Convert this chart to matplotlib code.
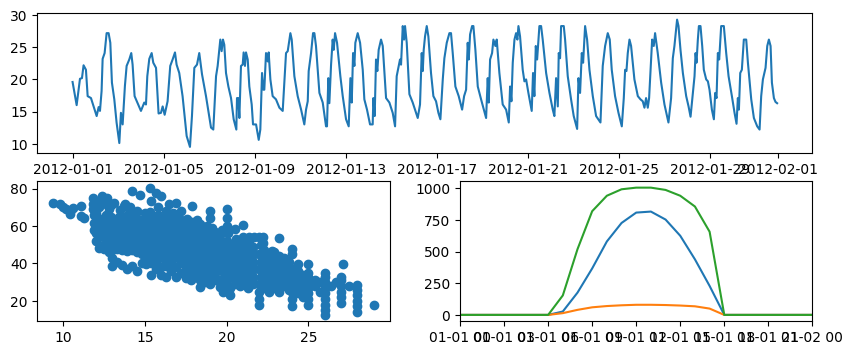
import numpy as np
import pandas as pd
import matplotlib
matplotlib.use("Agg")
import matplotlib.pyplot as plt
import matplotlib.dates as mdates

# temperature trace, hours since 2012-01-01 00:00 and value
temp_hours = [
    0, 4.3, 7.8, 9.9, 11.6, 14.1, 15.9, 19.4, 22.2, 25.4, 27.5, 28.9, 30.6, 31.7, 33.8,
    35.9, 38.0, 39.8, 41.5, 44.0, 46.4, 49.3, 51.0, 52.8, 55.2, 57.0, 59.8, 61.9, 63.3,
    65.4, 72.1, 75.6, 77.4, 78.8, 80.9, 83.4, 85.1, 88.0, 90.7, 93.2, 95.0, 97.1, 100.2,
    103.0, 105.5, 108.0, 109.7, 112.5, 116.0, 120.3, 123.8, 125.9, 128.4, 131.2, 133.6,
    136.5, 140.7, 146.0, 148.4,
    151.3, 153.0, 155.8, 157.2, 158.6, 160.0, 161.8, 164.3, 167.1, 169.9, 172.7, 173.4,
    174.8, 175.9, 177.6, 179.4, 180.4, 181.8, 182.9, 184.7, 186.4, 188.9, 190.3, 193.5,
    196.3, 198.0, 199.8, 201.2, 202.2, 204.0, 205.8, 206.8, 208.6, 211.0, 214.5, 218.1,
    221.6, 223.3, 225.1, 226.9, 229.7, 231.1, 233.9, 237.4, 241.0, 244.4, 246.2, 248.0,
    249.0, 251.5, 253.6, 255.0, 256.7, 260.3, 263.8, 267.3, 268.3, 269.7, 270.8, 272.6,
    274.3, 275.4, 276.8, 278.9, 282.4, 284.9, 288.4, 291.2, 293.0, 294.4, 295.8, 297.2,
    298.2, 300.7, 303.2, 306.0, 307.7, 310.5, 313.7, 316.5,
    317.2, 318.6, 320.0, 321.4, 322.8, 325.3, 327.1, 330.6, 334.1, 337.6, 340.1, 341.8,
    343.9, 345.3, 346.4, 348.2, 349.6, 350.6, 352.4, 355.2, 358.7, 364.0, 366.4, 368.2,
    369.3, 370.3, 371.7, 373.5, 375.2, 378.0, 380.5, 383.3, 385.8, 387.9, 390.4, 392.1,
    394.6, 397.4, 399.1, 400.9, 403.7, 407.2, 410.8, 412.9, 415.0, 416.7, 417.8, 419.2,
    421.3, 422.7, 424.8, 427.3, 430.8, 433.2, 436.1, 437.8, 438.9, 440.3, 442.4, 443.8,
    445.9, 447.3, 450.1, 453.6, 457.2, 460.0, 461.4, 462.8, 464.2, 466.0, 467.7, 469.1,
    470.2, 471.9, 474.7, 476.5, 478.3,
    480.7, 484.2, 485.6, 487.0, 488.5, 489.9, 491.3, 492.3, 494.1, 495.8, 499.4, 502.9,
    506.4, 508.1, 509.9, 511.7, 512.7, 514.1, 515.2, 518.0, 519.4, 522.2, 525.7, 528.5,
    532.1, 533.5, 535.2, 537.0, 538.4, 540.5, 542.6, 545.1, 548.6, 552.1, 556.7, 559.1,
    561.6, 564.4, 566.5, 568.6, 572.1, 575.7, 579.2, 581.3, 582.7, 584.1, 585.5, 587.3,
    589.0, 592.5, 596.1, 598.9, 601.3, 603.1, 604.8, 606.6, 608.0, 609.4, 611.2, 612.9,
    614.3, 617.1, 620.7, 624.2, 628.4, 631.2, 633.0, 634.7, 637.5,
    639.0, 641.1, 643.6, 647.1, 649.6, 651.7, 654.1, 655.9, 657.0, 658.0, 659.4, 660.5,
    662.2, 664.0, 665.7, 668.2, 670.0, 671.7, 674.2, 676.3, 677.7, 679.1, 680.5, 681.9,
    684.0, 686.8, 689.3, 691.8, 695.3, 698.1, 700.2, 701.6, 702.7, 704.1, 705.8, 706.9,
    707.9, 710.4, 712.2, 715.7, 718.5, 722.0, 724.5, 726.2, 728.0, 730.8, 732.6, 734.3,
    736.1, 737.5, 739.6, 741.3, 743.0,
]
temp_values = [
    19.6, 16.0, 20.1, 20.2, 22.2, 21.5, 17.4, 17.1, 15.8, 14.3, 15.7, 15.1, 18.2, 23.2, 24.1,
    27.2, 27.2, 25.7, 19.5, 16.9, 13.3, 10.1, 14.8, 13.0, 19.0, 22.1, 23.1, 24.1, 22.3,
    17.4, 15.1, 16.4, 16.1, 20.5, 23.2, 24.1, 22.6, 21.8, 14.7, 14.8, 15.8, 14.5, 16.6,
    22.1, 23.1, 24.2, 22.3, 21.0, 17.4, 11.2, 9.5, 14.3, 21.8, 22.3, 24.1,
    20.8, 17.4, 12.5, 12.2,
    20.5, 22.1, 26.2, 24.4, 26.2, 25.4, 21.0, 18.9, 17.1, 13.8, 12.2, 17.1,
    17.1, 14.0, 22.1, 22.3, 24.2, 22.1, 24.2, 23.1, 18.9, 16.1, 13.0, 13.0,
    10.6, 12.2, 21.0, 18.4, 18.4, 24.1, 22.8, 24.2, 20.0, 17.4, 16.9, 15.6,
    15.1, 19.5, 24.1, 24.4, 27.2, 26.2, 20.5, 17.4, 15.3, 13.0, 15.3, 16.6,
    21.3, 24.1, 27.2, 27.2, 25.2, 17.9, 16.4, 12.7, 12.7, 20.2, 16.3, 22.3,
    26.2, 24.6, 27.2, 25.7, 20.5, 17.4, 13.8, 12.7, 20.2, 16.4, 24.1, 22.1,
    25.7, 27.2, 25.7, 21.5, 16.9, 15.3, 13.0, 13.0,
    17.1, 14.3, 23.1, 21.3, 24.6, 26.2, 25.2, 17.1, 16.4, 14.8, 12.7, 20.5,
    22.1, 23.1, 22.3, 28.3, 26.2, 28.3, 25.7, 17.7, 16.4, 14.0, 16.1, 24.1,
    21.3, 24.6, 26.7, 28.3, 26.7, 21.0, 17.4, 16.6, 14.8, 13.8, 20.0, 23.3,
    25.7, 27.2, 27.2, 24.1, 18.9, 17.4, 15.3, 17.4, 18.4, 25.7, 23.1, 27.0,
    28.3, 28.3, 24.6, 18.9, 16.9, 15.6, 14.0, 20.2, 16.4, 23.1, 24.1, 26.2,
    25.2, 26.2, 21.0, 16.1, 15.3, 13.3, 18.9, 16.6, 22.6, 26.2, 27.2, 26.2,
    28.3, 26.7, 21.5, 19.7, 20.0,
    17.9, 15.1, 21.0, 17.4, 25.2, 23.1, 26.2, 28.3, 28.3, 26.2, 21.0, 17.9,
    15.3, 14.3, 20.2, 15.8, 24.1, 23.3, 28.3, 28.3, 26.2, 20.5, 16.9, 14.3,
    12.3, 20.2, 17.9, 24.1, 22.6, 28.3, 26.2, 21.5, 17.4, 14.3, 13.3, 22.1,
    25.2, 27.2, 26.2, 21.5, 17.4, 14.8, 12.7, 17.1, 21.5, 21.3, 24.1, 26.2,
    25.2, 20.0, 17.4, 16.9, 16.6, 15.6, 17.1, 15.6, 17.1, 21.0, 26.2, 25.2,
    27.2, 24.1, 19.5, 16.1, 13.3, 17.1, 23.3, 25.2, 29.3,
    28.3, 24.6, 21.0, 17.4, 15.8, 14.2, 17.9, 20.5, 24.1, 22.6, 26.2, 28.3,
    28.3, 25.2, 21.5, 20.0, 19.7, 18.4, 15.3, 13.8, 17.9, 17.1, 24.1, 23.1,
    28.3, 28.3, 24.1, 20.5, 17.4, 14.8, 13.1, 17.1, 15.3, 21.0, 21.5, 24.1,
    26.2, 26.2, 22.6, 16.9, 14.0, 12.7, 12.2, 17.4, 20.0, 21.8, 25.2, 26.2,
    25.2, 19.5, 17.1, 16.5, 16.3,
]

# temperature vs humidity, (temp, humidity)
scatter_points = [
    (9.4, 72.1), (9.8, 71.6), (10.0, 70.3), (10.2, 68.9), (10.4, 67.5), (10.6, 69.8),
    (10.4, 66.5), (11.1, 70.7), (11.1, 65.3), (11.3, 64.4),
    (11.8, 72), (11.8, 75), (11.8, 69), (11.9, 66), (11.9, 58), (11.9, 61.5),
    (12.0, 52), (12.0, 56), (12.1, 62), (12.0, 67), (12.1, 73),
    (12.2, 48), (12.2, 54), (12.3, 58), (12.2, 61), (12.3, 64), (12.2, 70), (12.3, 74), (12.4, 76),
    (12.5, 47.5), (12.5, 50), (12.6, 53), (12.5, 57), (12.6, 60), (12.5, 63), (12.6, 66), (12.6, 72), (12.7, 75),
    (12.8, 46), (12.8, 49), (12.9, 52), (12.8, 55), (12.9, 59), (12.8, 62), (12.9, 65), (12.8, 69), (12.9, 71),
    (13.0, 38.5), (13.0, 42.7), (13.0, 47), (13.1, 50), (13.0, 53), (13.1, 56), (13.0, 60), (13.1, 63), (13.1, 72.5),
    (13.3, 41), (13.3, 47.5), (13.4, 51), (13.3, 54), (13.4, 58), (13.3, 62), (13.4, 65), (13.5, 68.5),
    (13.6, 39), (13.6, 47), (13.7, 50), (13.6, 54), (13.7, 57), (13.6, 61), (13.7, 65), (13.7, 70.5),
    (13.9, 37), (13.9, 46.5), (14.0, 50), (13.9, 53), (14.0, 56), (13.9, 59), (14.0, 63), (14.0, 67), (13.8, 71.8),
    (14.2, 38.5), (14.2, 47), (14.3, 51), (14.2, 55), (14.3, 58), (14.2, 62), (14.3, 66), (14.1, 70), (14.2, 78.8),
    (14.5, 36), (14.5, 46), (14.6, 50), (14.5, 53), (14.6, 57), (14.5, 61), (14.6, 64), (14.5, 68),
    (14.8, 40), (14.8, 45), (14.9, 49), (14.8, 52), (14.9, 55), (14.8, 59), (14.9, 63), (15.0, 67), (14.7, 76.5),
    (15.1, 39.5), (15.1, 43), (15.2, 46), (15.1, 50), (15.2, 54), (15.1, 57), (15.2, 60), (15.1, 64), (15.3, 67.5),
    (15.4, 34), (15.4, 40.5), (15.5, 44), (15.4, 48), (15.5, 51), (15.4, 55), (15.5, 58), (15.4, 62),
    (15.5, 65), (15.4, 73.5), (15.3, 80.5),
    (15.7, 37), (15.7, 41), (15.8, 45), (15.7, 49), (15.8, 52), (15.7, 56), (15.8, 60), (15.7, 63),
    (15.8, 66), (15.8, 70), (15.7, 77.5),
    (16.0, 34), (16.0, 38), (16.1, 43), (16.0, 47), (16.1, 50), (16.0, 54), (16.1, 57), (16.0, 61),
    (16.1, 64), (16.0, 76),
    (16.3, 33), (16.3, 38.5), (16.4, 44), (16.3, 48), (16.4, 51), (16.3, 55), (16.4, 58), (16.3, 62),
    (16.4, 65), (16.3, 68),
    (16.6, 36), (16.6, 41), (16.7, 45), (16.6, 49), (16.7, 53), (16.6, 56), (16.7, 60), (16.6, 63),
    (16.7, 67), (16.5, 71.6),
    (16.9, 33), (16.9, 38), (17.0, 43), (16.9, 47), (17.0, 50), (16.9, 54), (17.0, 58), (16.9, 62),
    (17.0, 65), (16.9, 72.5),
    (17.2, 35), (17.2, 40), (17.3, 44), (17.2, 48), (17.3, 52), (17.2, 55), (17.3, 59), (17.2, 63), (17.2, 68),
    (17.5, 32), (17.5, 37), (17.6, 42), (17.5, 46), (17.6, 50), (17.5, 53), (17.6, 57), (17.5, 61), (17.6, 64),
    (17.8, 31), (17.8, 35), (17.9, 39), (17.8, 43), (17.9, 47), (17.8, 51), (17.9, 55), (17.8, 58),
    (17.9, 62), (17.9, 70.5),
    (18.1, 33), (18.1, 37), (18.2, 41), (18.1, 45), (18.2, 49), (18.1, 52), (18.2, 56), (18.1, 60), (18.2, 63),
    (18.4, 27.5), (18.4, 31), (18.5, 35), (18.4, 39), (18.5, 43), (18.4, 47), (18.5, 51), (18.4, 54),
    (18.5, 58), (18.4, 61),
    (18.7, 30), (18.7, 34), (18.8, 38), (18.7, 42), (18.8, 46), (18.7, 50), (18.8, 53), (18.7, 57), (18.8, 60),
    (19.0, 29), (19.0, 33), (19.1, 37), (19.0, 41), (19.1, 45), (19.0, 49), (19.1, 52), (19.0, 56),
    (19.1, 59), (19.0, 64.4), (19.0, 68),
    (19.3, 31), (19.3, 35), (19.4, 39), (19.3, 43), (19.4, 47), (19.3, 51), (19.4, 54), (19.3, 57),
    (19.6, 27.6), (19.6, 31), (19.7, 36), (19.6, 40), (19.7, 44), (19.6, 48), (19.7, 51), (19.6, 55), (19.7, 58),
    (19.8, 24.8), (19.8, 29), (19.9, 33), (19.8, 38), (19.9, 42), (19.8, 46), (19.9, 50),
    (20.0, 31), (20.0, 36), (20.1, 40), (20.0, 44), (20.1, 48), (20.0, 52), (20.1, 56), (20.0, 60),
    (20.0, 64.4), (20.0, 68.9),
    (20.2, 23.3), (20.2, 27), (20.3, 34), (20.2, 38), (20.3, 42), (20.2, 46), (20.3, 50),
    (20.5, 29), (20.5, 33), (20.6, 37), (20.5, 41), (20.6, 45), (20.5, 49), (20.6, 53), (20.5, 58.3),
    (20.8, 28), (20.8, 32), (20.9, 36), (20.8, 40), (20.9, 44), (20.8, 48), (20.9, 52),
    (21.0, 30), (21.0, 34), (21.1, 38), (21.0, 42), (21.1, 46), (21.0, 50), (21.0, 54), (21.0, 60.5),
    (21.3, 27), (21.3, 31), (21.4, 35), (21.3, 39), (21.4, 43), (21.3, 47), (21.4, 51), (21.4, 54),
    (21.6, 29), (21.6, 33), (21.7, 37), (21.6, 41), (21.7, 45), (21.6, 49), (21.7, 54),
    (22.0, 18), (22.0, 21), (22.0, 25), (22.0, 29), (22.1, 33), (22.0, 37), (22.1, 41), (22.0, 45),
    (22.1, 50), (22.0, 54),
    (22.3, 27), (22.3, 31), (22.4, 35), (22.3, 39), (22.4, 43), (22.3, 47), (22.2, 51), (22.2, 54),
    (22.6, 25), (22.6, 29), (22.7, 33), (22.6, 37), (22.7, 41), (22.6, 44), (22.8, 46.7),
    (22.9, 27), (22.9, 31), (23.0, 35), (22.9, 39), (23.0, 41.6), (22.9, 46),
    (23.2, 25), (23.2, 29), (23.3, 33), (23.2, 37), (23.3, 41), (23.2, 44), (23.2, 53.7),
    (23.5, 28), (23.5, 32), (23.6, 36), (23.5, 40), (23.5, 43),
    (23.8, 26), (23.8, 30), (23.9, 34), (23.8, 38), (23.8, 41),
    (24.0, 17), (24.0, 21), (24.0, 25), (24.0, 29), (24.0, 33), (24.0, 37), (24.0, 44.9), (24.0, 47.7),
    (24.4, 24), (24.4, 28), (24.4, 32), (24.4, 36), (24.4, 39.5),
    (24.7, 22), (24.7, 26), (24.7, 30), (24.7, 34),
    (25.0, 18), (25.0, 21), (25.0, 24), (25.0, 27), (25.0, 30), (25.0, 33), (25.0, 35), (25.0, 39.5),
    (25.4, 28), (25.4, 31), (25.7, 25), (25.7, 30),
    (26.0, 12.5), (26.0, 15), (26.0, 18), (26.0, 21), (26.0, 24), (26.0, 27), (26.0, 30), (26.0, 33), (26.0, 35),
    (26.4, 28), (26.7, 30),
    (27.0, 19), (27.0, 22), (27.0, 25), (27.0, 28), (27.0, 31), (27.0, 33), (27.1, 39.5),
    (27.5, 28),
    (28.0, 14), (28.0, 17), (28.0, 20), (28.0, 23), (28.0, 26), (28.0, 28.6),
    (29.0, 18),
]

# one day of irradiance, hourly from 00:00 to next 00:00
irr_hours = list(range(25))
ghi = [0, 0, 0, 0, 0, 0, 0, 27, 176, 367, 580, 726, 808, 816, 753, 625, 439, 229, 0, 0, 0, 0, 0, 0, 0]
dhi = [0, 0, 0, 0, 0, 0, 0, 14, 40, 60, 70, 76, 80, 80, 78, 74, 68, 50, 0, 0, 0, 0, 0, 0, 0]
dni = [0, 0, 0, 0, 0, 0, 0, 154, 519, 819, 941, 992, 1005, 1005, 987, 941, 856, 657, 0, 0, 0, 0, 0, 0, 0]


def main():
    start = pd.Timestamp("2012-01-01")
    t = start + pd.to_timedelta(temp_hours, unit="h")
    sx = [p[0] for p in scatter_points]
    sy = [p[1] for p in scatter_points]
    ti = start + pd.to_timedelta(irr_hours, unit="h")

    fig = plt.figure(figsize=(10, 4))
    ax1 = fig.add_subplot(2, 1, 1)
    ax2 = fig.add_subplot(2, 2, 3)
    ax3 = fig.add_subplot(2, 2, 4)

    ax1.plot(t, temp_values)

    ax2.scatter(sx, sy)

    ax3.plot(ti, ghi)
    ax3.plot(ti, dhi)
    ax3.plot(ti, dni)
    ax3.margins(x=0)
    ax3.xaxis.set_major_locator(mdates.HourLocator(interval=3))
    ax3.xaxis.set_major_formatter(mdates.DateFormatter("%m-%d %H"))

    fig.savefig("out.png", dpi=100, bbox_inches="tight")


if __name__ == "__main__":
    main()
